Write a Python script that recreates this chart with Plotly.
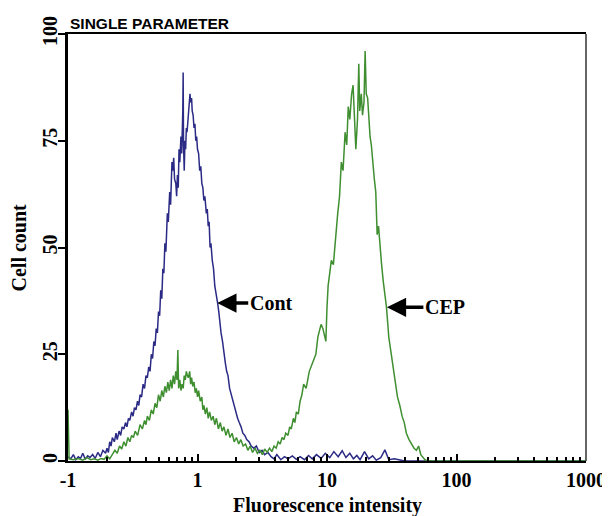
import numpy as np
import plotly.graph_objects as go

# channel intensity (x) and cell counts
cont_x = [0.100, 0.105, 0.110, 0.115, 0.120, 0.125, 0.130, 0.136, 0.142, 0.148, 0.155, 0.162, 0.170, 0.178,
          0.186, 0.195, 0.200, 0.205, 0.210, 0.215, 0.220, 0.228, 0.235, 0.240, 0.248, 0.255, 0.262, 0.270,
          0.278, 0.285, 0.293, 0.300, 0.310, 0.318, 0.326, 0.335, 0.344, 0.352, 0.360, 0.370, 0.380, 0.390,
          0.400, 0.410, 0.420, 0.430, 0.440, 0.450, 0.460, 0.470, 0.480, 0.490, 0.500, 0.510, 0.520, 0.530,
          0.540, 0.550, 0.560, 0.570, 0.585, 0.595, 0.610, 0.620, 0.635, 0.645, 0.655, 0.665, 0.680, 0.690,
          0.700, 0.710, 0.720, 0.730, 0.745, 0.755, 0.770, 0.775, 0.780, 0.790, 0.800, 0.810, 0.820, 0.830,
          0.845, 0.860, 0.875, 0.885, 0.900, 0.910, 0.925, 0.940, 0.955, 0.970, 0.985, 1.00, 1.02, 1.04,
          1.06, 1.08, 1.10, 1.12, 1.14, 1.17, 1.19, 1.21, 1.23, 1.25, 1.27, 1.30, 1.33, 1.36, 1.40, 1.43,
          1.46, 1.49, 1.52, 1.56, 1.60, 1.64, 1.68, 1.72, 1.77, 1.82, 1.87, 1.92, 1.98, 2.04, 2.10, 2.17,
          2.24, 2.32, 2.40, 2.50, 2.60, 2.72, 2.85, 3.0, 3.15, 3.3, 3.5, 3.7, 3.9, 4.1, 4.4, 4.7, 5.0, 5.4,
          5.8, 6.2, 6.7, 7.2, 7.7, 8.3, 9.0, 9.7, 10.5, 11.3, 12.2, 13.1, 14.0, 15.0, 16.0, 17.0, 18.0,
          19.5, 21.0, 22.5, 24.0, 26.0, 28.0, 30.0, 33.0, 36.0, 40.0, 100.0, 1000.0]
cont_y = [1, 0.5, 1.5, 0.3, 1, 0.6, 1.8, 0.4, 1.2, 0.8, 1.5, 0.6, 2, 1,
          2.5, 1.8, 3, 2, 4.5, 3.5, 5.5, 4.5, 6.5, 5, 7, 6, 8, 7.5,
          9, 8, 10, 9.5, 11.5, 10.5, 12.5, 12, 14, 13, 15.5, 15, 18, 17,
          20, 19.5, 22, 21, 25, 24, 28, 27, 31, 30, 35, 34, 40, 38,
          45, 44, 51, 49, 58, 56, 63, 60, 70, 68, 71, 66, 65, 62,
          67, 64, 73, 70, 76, 72, 82, 91, 74, 68, 75, 73, 78, 77,
          80, 83, 86, 84, 85, 82, 81, 78, 79, 75, 76, 73, 72, 68,
          69, 65, 64, 61, 62, 58, 59, 55, 56, 50, 51, 47, 45, 41, 39, 37,
          35, 32, 30, 28, 25, 23, 21, 20, 17, 15.5, 14, 13, 11, 10, 9, 8,
          6.5, 6, 5, 4.5, 3.5, 3, 3.5, 2, 2.5, 1.5, 2, 1, 0.5, 1.5, 0.3, 1, 0.5, 1.2,
          0.4, 1, 0.3, 1.3, 0.5, 1.5, 0.6, 1.8, 0.8, 2.2, 1.0, 2.4, 0.8, 1.8, 0.5, 1.3, 0.3,
          2.2, 0.5, 1.2, 0.2, 0.8, 2.6, 0.3, 0.5, 0.2, 0, 0, 0]

cep_x = [0.100, 0.102, 0.110, 0.120, 0.130, 0.140, 0.150, 0.160, 0.170, 0.180, 0.190, 0.200, 0.210, 0.220,
         0.230, 0.240, 0.250, 0.260, 0.270, 0.280, 0.290, 0.300, 0.310, 0.320, 0.330, 0.345, 0.360, 0.375,
         0.390, 0.400, 0.410, 0.425, 0.440, 0.455, 0.470, 0.485, 0.500, 0.515, 0.530, 0.545, 0.560, 0.575,
         0.590, 0.605, 0.620, 0.635, 0.650, 0.665, 0.680, 0.695, 0.705, 0.715, 0.730, 0.745, 0.760, 0.775,
         0.790, 0.805, 0.820, 0.835, 0.850, 0.870, 0.885, 0.900, 0.920, 0.940, 0.960, 0.980, 1.00, 1.02,
         1.05, 1.08, 1.10, 1.12, 1.15, 1.18, 1.21, 1.24, 1.28, 1.32, 1.36, 1.40, 1.45, 1.50, 1.55, 1.60,
         1.66, 1.72, 1.78, 1.85, 1.92, 2.00, 2.08, 2.16, 2.25, 2.35, 2.45, 2.55, 2.66, 2.78, 2.90, 3.03,
         3.17, 3.30, 3.45, 3.60, 3.75, 3.90, 4.05, 4.20, 4.35, 4.50, 4.65, 4.80, 5.00, 5.15, 5.30, 5.50,
         5.65, 5.80, 6.00, 6.20, 6.40, 6.60, 6.90, 7.30, 7.70, 8.20, 8.50, 9.00, 9.30, 9.60, 9.80, 10.0,
         10.2, 10.5, 10.8, 11.2, 11.6, 12.1, 12.5, 12.9, 13.3, 13.8, 14.2, 14.6, 15.0, 15.5, 15.9, 16.3,
         16.7, 17.2, 17.6, 17.9, 18.4, 18.8, 19.3, 19.7, 20.1, 20.6, 21.0, 21.5, 22.0, 22.6, 23.2, 23.8,
         24.4, 25.0, 25.7, 26.4, 27.2, 28.0, 28.8, 30.0, 31.0, 32.0, 33.0, 34.0, 35.0, 36.5, 38.0, 39.5,
         41.0, 43.0, 45.0, 47.0, 49.0, 51.0, 53.0, 55.0, 57.0, 60.0, 1000.0]
cep_y = [12, 0.5, 0.3, 0.6, 0.2, 0.8, 0.3, 0.5, 0.2, 0.6, 0.4, 1.2, 0.5, 1.5,
         2.5, 1.8, 3.5, 2.8, 4.5, 3.5, 5.5, 4.5, 6, 5.5, 7, 6, 8.5, 7.5,
         9.5, 8.5, 10.5, 9.5, 12, 11, 13.5, 12.5, 15.5, 14, 16.5, 15, 17.5, 16,
         18.5, 16.5, 19, 17, 20, 18, 21, 19, 26, 17, 19, 16.5, 18, 17,
         20, 19, 21, 20, 19.5, 21, 18, 19.5, 17.5, 18.5, 16, 17, 15, 16.5,
         14, 15, 12, 13, 11, 12.5, 10, 11.5, 9.5, 10.5, 8.5, 10, 7.5, 9, 7, 8,
         6, 7.5, 5.5, 6.5, 4.5, 5.5, 4, 5, 3.5, 4, 2.5, 3.5, 2, 3, 1.8, 2.5,
         1.5, 2.8, 2, 3, 2.2, 3.5, 3, 4.5, 4, 5.5, 5, 6.5, 6, 8, 7.5, 10,
         9, 11.5, 11, 14, 15.5, 18, 17, 21, 23, 25, 29, 32, 31, 29, 28, 36,
         41, 44, 47, 46, 52, 58, 62, 70, 68, 77, 74, 83, 80, 86, 88, 78,
         73, 80, 93, 82, 86, 81, 84, 96, 86, 85, 80, 76, 74, 69, 66, 63,
         53, 55, 49, 46, 42, 39, 36, 29, 26, 22, 20, 17, 15, 13, 10.5, 9,
         6.5, 5, 4, 3, 2.5, 3.5, 1.5, 1, 0.3, 0, 0]

x_ticks = [0.1, 1, 10, 100, 1000]
x_tick_text = ["-1", "1", "10", "100", "1000"]
y_ticks = [0, 25, 50, 75, 100]

serif = "Liberation Serif"
bold_serif = dict(family=serif, size=20, color="black", weight="bold")

fig = go.Figure()
fig.add_trace(go.Scatter(x=cont_x, y=cont_y, mode="lines", name="Cont",
                         line=dict(color="#2b2b86", width=1.5), showlegend=False))
fig.add_trace(go.Scatter(x=cep_x, y=cep_y, mode="lines", name="CEP",
                         line=dict(color="#3f8f30", width=1.5), showlegend=False))

minor_vals = [m * 10.0 ** d for d in range(-1, 3) for m in range(2, 10)]

fig.update_xaxes(type="log", range=[-1, 3], tickvals=x_ticks, ticktext=x_tick_text,
                 ticks="inside", ticklen=7, tickwidth=2, tickcolor="black",
                 minor=dict(tickvals=minor_vals, ticks="inside", ticklen=4, tickwidth=1.5, tickcolor="black"),
                 showline=True, linewidth=2, linecolor="black", mirror=True,
                 showgrid=False, zeroline=False, automargin=False,
                 tickfont=bold_serif)
fig.update_yaxes(range=[0, 100], tickvals=y_ticks, ticks="outside", ticklen=7, tickwidth=2,
                 tickcolor="black", tickangle=-90, ticklabelstandoff=-7,
                 showline=True, linewidth=3, linecolor="black",
                 showgrid=False, zeroline=False, automargin=False,
                 tickfont=bold_serif)

# thin right-hand frame line
fig.add_shape(type="line", xref="paper", yref="paper", x0=1, x1=1, y0=0, y1=1,
              line=dict(color="#333333", width=1.5))

fig.add_annotation(x=np.log10(1.42), y=37, text="Cont", showarrow=True, arrowhead=2,
                   arrowsize=1.1, arrowwidth=3.5, arrowcolor="black", ax=54, ay=0,
                   font=bold_serif)
fig.add_annotation(x=np.log10(29), y=36, text="CEP", showarrow=True, arrowhead=2,
                   arrowsize=1.1, arrowwidth=3.5, arrowcolor="black", ax=58, ay=0,
                   font=bold_serif)

fig.add_annotation(xref="paper", yref="paper", x=0, y=1, xanchor="left", yanchor="bottom",
                   yshift=0, text="SINGLE PARAMETER", showarrow=False,
                   font=dict(family="Liberation Sans", size=15.5, color="black", weight="bold"))
fig.add_annotation(xref="paper", yref="paper", x=0.5, y=0, xanchor="center", yanchor="top",
                   yshift=-31, text="Fluorescence intensity", showarrow=False,
                   font=bold_serif)
fig.add_annotation(xref="paper", yref="paper", x=0, y=0.5, xanchor="right", yanchor="middle",
                   xshift=-37, textangle=-90, text="Cell count", showarrow=False,
                   font=bold_serif)

# page body keeps its default 8px margin, so the figure is sized to fit the window
fig.update_layout(width=602, height=508, margin=dict(l=60, r=24, t=26, b=55),
                  plot_bgcolor="white", paper_bgcolor="white")

fig.write_html("out.html")
